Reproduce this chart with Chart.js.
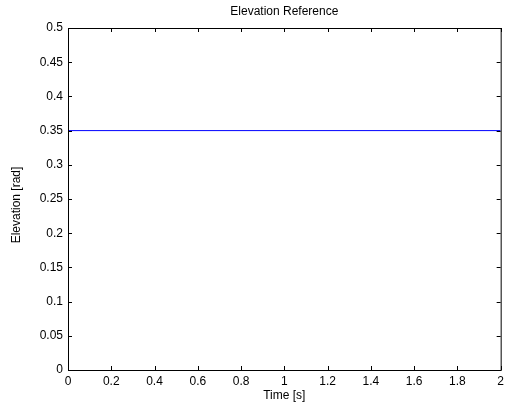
<!DOCTYPE html>
<html>
<head>
<meta charset="utf-8">
<script src="https://cdn.jsdelivr.net/npm/chart.js@4/dist/chart.umd.min.js"></script>
<style>
  html, body { margin: 0; padding: 0; background: #fff; }
  #wrap { width: 508px; height: 410px; }
</style>
</head>
<body>
<div id="wrap"><canvas id="elevChart" width="508" height="410"></canvas></div>
<script>
// --- data ---
const timeValues = [0, 2];
const elevationValues = [0.35, 0.35];
const xTickStep = 0.2;
const yTickStep = 0.05;

const FONT = "'Liberation Sans', Arial, sans-serif";

function fmt(v) {
  return String(Number(v.toFixed(2)));
}

// box, inward ticks on all four sides, and text labels
const matlabFrame = {
  id: "matlabFrame",
  afterDraw(chart) {
    const { ctx, chartArea: a, scales } = chart;
    const tl = 4;
    ctx.save();
    ctx.strokeStyle = "#000";
    ctx.lineWidth = 1;
    ctx.strokeRect(a.left + 0.5, a.top + 0.5, a.right - a.left, a.bottom - a.top);

    ctx.beginPath();
    scales.x.ticks.forEach((t) => {
      const px = Math.round(scales.x.getPixelForValue(t.value)) + 0.5;
      ctx.moveTo(px, a.bottom); ctx.lineTo(px, a.bottom - tl);
      ctx.moveTo(px, a.top); ctx.lineTo(px, a.top + tl);
    });
    scales.y.ticks.forEach((t) => {
      const py = Math.round(scales.y.getPixelForValue(t.value)) + 0.5;
      ctx.moveTo(a.left, py); ctx.lineTo(a.left + tl, py);
      ctx.moveTo(a.right, py); ctx.lineTo(a.right - tl, py);
    });
    ctx.stroke();

    const cx = (a.left + a.right) / 2;
    ctx.fillStyle = "#000";
    ctx.font = "12px " + FONT;
    ctx.textAlign = "center";
    ctx.textBaseline = "middle";
    ctx.fillText("Elevation Reference", cx, 12);
    ctx.fillText("Time [s]", cx, 396);

    ctx.translate(17, 205);
    ctx.rotate(-Math.PI / 2);
    ctx.fillText("Elevation [rad]", 0, 0);
    ctx.restore();
  },
};

new Chart(document.getElementById("elevChart"), {
  type: "line",
  data: {
    datasets: [
      {
        data: timeValues.map((t, i) => ({ x: t, y: elevationValues[i] })),
        borderColor: "#0000ff",
        borderWidth: 1,
        pointRadius: 0,
        tension: 0,
      },
    ],
  },
  options: {
    responsive: false,
    animation: false,
    layout: { padding: { top: 28, right: 6, left: 0, bottom: 0 } },
    plugins: {
      legend: { display: false },
      tooltip: { enabled: false },
      title: { display: false },
    },
    scales: {
      x: {
        type: "linear",
        min: 0,
        max: 2,
        grid: { display: false, drawTicks: false },
        border: { display: false },
        ticks: {
          stepSize: xTickStep,
          padding: 4,
          maxRotation: 0,
          color: "#000",
          font: { family: FONT, size: 12 },
          callback: (v) => fmt(v),
        },
        afterFit: (s) => { s.height = 40; },
      },
      y: {
        min: 0,
        max: 0.5,
        grid: { display: false, drawTicks: false },
        border: { display: false },
        ticks: {
          stepSize: yTickStep,
          padding: 5,
          color: "#000",
          font: { family: FONT, size: 12 },
          callback: (v) => fmt(v),
        },
        afterFit: (s) => { s.width = 68; },
      },
    },
  },
  plugins: [matlabFrame],
});
</script>
</body>
</html>
